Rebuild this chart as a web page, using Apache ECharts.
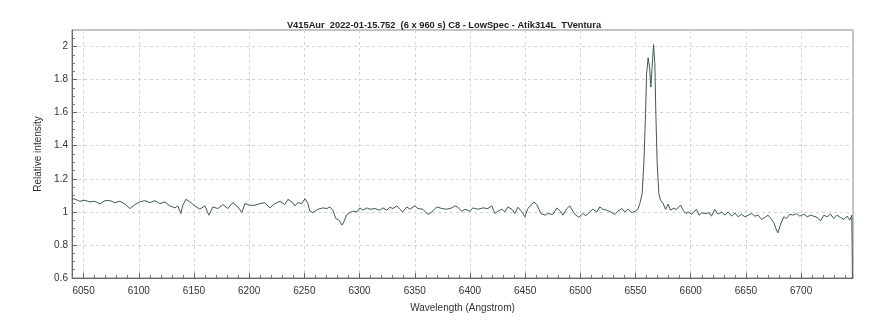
<!DOCTYPE html>
<html><head><meta charset="utf-8">
<script src="https://cdn.jsdelivr.net/npm/echarts@6/dist/echarts.min.js"></script>
<style>html,body{margin:0;padding:0;background:#fff}#c{width:880px;height:324px}</style>
</head><body><div id="c"></div>
<script>
const chartTitle = "V415Aur  2022-01-15.752  (6 x 960 s) C8 - LowSpec - Atik314L  TVentura";
const xAxisName = "Wavelength (Angstrom)";
const yAxisName = "Relative intensity";
const xTickLabels = [6050,6100,6150,6200,6250,6300,6350,6400,6450,6500,6550,6600,6650,6700];
const yTickLabels = [0.6,0.8,1,1.2,1.4,1.6,1.8,2];
const wavelengths = [
6039.5,6042.1,6046.6,6051.2,6055.7,6060.2,6064.8,6069.3,6073.8,6078.4,6082.9,6087.4,6091.9,6096.5,6101.0,6105.5,6110.1,6114.6,6119.1,6123.6,6128.2,6132.7,6135.4,6138.1,6139.9,6142.7,6146.3,6150.8,6155.3,6159.9,6163.5,6167.1,6171.6,6176.2,6180.7,6185.2,6189.8,6193.4,6196.1,6200.6,6205.2,6209.7,6214.2,6218.7,
6223.3,6227.8,6232.3,6235.1,6238.7,6241.4,6244.1,6247.7,6250.5,6253.2,6255.0,6257.7,6262.2,6266.8,6270.4,6273.1,6275.8,6278.5,6281.3,6284.0,6285.8,6288.5,6291.2,6293.9,6297.6,6300.3,6303.0,6306.6,6309.3,6313.9,6318.4,6321.1,6324.7,6327.4,6330.2,6333.8,6336.5,6339.2,6342.8,6345.6,6350.1,6352.8,6357.3,6361.9,6365.5,6370.0,6374.6,6379.1,6383.6,6386.3,6389.0,6392.7,6395.4,
6397.2,6399.9,6402.6,6407.2,6411.7,6416.2,6419.8,6422.6,6425.3,6428.9,6431.6,6434.3,6438.0,6440.7,6443.4,6447.0,6449.7,6452.4,6456.1,6457.9,6460.6,6464.2,6467.9,6470.6,6475.1,6478.7,6482.3,6484.2,6487.8,6490.5,6493.2,6495.9,6498.6,6502.3,6505.0,6508.6,6511.3,6514.9,6517.7,6520.4,6524.0,6528.5,6531.3,6534.0,6537.6,6540.3,6543.0,6546.7,6550.0,6552.1,
6553.9,6556.0,6557.5,6559.1,6560.0,6561.4,6562.7,6563.9,6565.0,6566.3,6567.5,6568.4,6569.6,6571.1,6572.6,6575.0,6577.2,6579.5,6581.7,6584.1,6587.1,6590.8,6593.1,6595.6,6597.6,6600.7,6605.3,6607.6,6609.8,6612.8,6616.7,6618.8,6621.8,6624.8,6627.9,6630.9,6633.9,6637.0,6640.0,6642.9,6646.0,6649.0,6652.0,6655.1,6658.1,6661.1,6664.1,6667.1,6670.1,6673.2,6675.3,6677.1,6678.9,6680.7,6682.3,6684.3,6686.8,6689.8,6692.8,6695.8,6698.8,6702.5,6705.5,6708.5,6711.5,6714.5,6717.6,6720.6,6723.6,6726.6,6729.6,6732.6,6735.7,6738.7,6741.7,6744.1,6745.9,6746.8
];
const intensity = [
1.080,1.077,1.064,1.070,1.060,1.064,1.048,1.068,1.068,1.056,1.064,1.048,1.020,1.044,1.060,1.068,1.056,1.068,1.050,1.060,1.036,1.024,1.036,0.990,1.040,1.076,1.060,1.036,1.016,1.036,0.980,1.030,1.020,1.044,1.020,1.056,1.030,0.996,1.050,1.040,1.040,1.050,1.055,1.024,
1.050,1.064,1.044,1.076,1.060,1.036,1.056,1.050,1.080,1.050,1.004,0.996,1.016,1.024,1.020,1.030,1.010,0.960,0.950,0.920,0.940,0.984,0.996,1.004,1.000,1.024,1.010,1.024,1.016,1.020,1.010,1.024,1.010,1.028,1.020,1.036,1.016,1.000,1.030,1.016,1.036,1.020,1.016,0.984,1.000,1.030,1.020,1.016,1.024,1.036,1.028,1.004,1.016,
1.028,1.004,1.024,1.016,1.024,1.020,1.036,0.990,1.004,1.016,1.000,1.030,1.016,0.990,1.028,1.000,0.970,1.020,1.044,1.060,1.044,0.990,0.980,0.990,0.984,1.024,1.000,0.980,1.020,1.036,1.004,0.980,0.968,0.990,0.976,1.000,1.016,1.000,1.030,1.016,1.010,0.996,0.984,1.004,1.020,1.000,1.016,0.996,1.004,1.016,
1.050,1.111,1.292,1.594,1.835,1.932,1.875,1.755,1.875,2.012,1.896,1.594,1.292,1.111,1.071,1.050,1.015,1.047,1.010,1.021,1.015,1.041,1.010,0.990,1.000,0.986,1.015,0.980,0.994,0.990,0.994,0.974,1.015,0.986,1.000,0.980,1.000,0.974,0.994,0.970,0.986,0.970,0.980,0.990,0.974,0.980,0.954,0.966,0.980,0.954,0.934,0.900,0.873,0.910,0.940,0.970,0.960,0.986,0.980,0.990,0.974,0.986,0.970,0.980,0.974,0.966,0.946,0.980,0.970,0.986,0.960,0.980,0.966,0.954,0.974,0.950,0.980,0.400
];
const xMin = 6039.5, xMax = 6747, yMin = 0.6, yMax = 2.1;

// minor tick positions (every 10 Å / every 0.05)
const xMinor = [];
for (let v = 6040; v <= 6740; v += 10) if (v % 50 !== 0) xMinor.push(v);
const yMinor = [];
for (let k = 13; k <= 41; k++) if (k % 4 !== 0) yMinor.push(+(k * 0.05).toFixed(2));

const chart = echarts.init(document.getElementById('c'), null, {renderer: 'canvas'});
const font = "'Liberation Sans', Arial, sans-serif";
const axisCol = '#666';
chart.setOption({
  backgroundColor: '#fff',
  animation: false,
  title: {
    text: chartTitle, left: 439, top: 16, textAlign: 'center',
    textStyle: {fontFamily: font, fontSize: 9.3, fontWeight: 'bold', color: '#222'}
  },
  grid: {left: 72, right: 27, top: 30, bottom: 46, show: true, borderColor: '#888', borderWidth: 1, backgroundColor: '#fff'},
  xAxis: [{
    type: 'value', min: xMin, max: xMax,
    name: xAxisName, nameLocation: 'middle', nameGap: 25,
    nameTextStyle: {fontFamily: font, fontSize: 10, color: '#333'},
    axisLine: {show: true, onZero: false, lineStyle: {color: axisCol}},
    axisTick: {show: true, inside: true, length: 5, customValues: xTickLabels, lineStyle: {color: axisCol}},
    axisLabel: {fontFamily: font, fontSize: 10, color: '#333', margin: 8, customValues: xTickLabels, formatter: v => String(v)},
    splitLine: {show: true, lineStyle: {color: '#d4d4d4', type: [3, 3]}}
  }, {
    type: 'value', min: xMin, max: xMax, position: 'bottom',
    axisLine: {show: false, onZero: false},
    axisTick: {show: true, inside: true, length: 3, customValues: xMinor, lineStyle: {color: '#777'}},
    axisLabel: {show: false},
    splitLine: {show: false}
  }],
  yAxis: [{
    type: 'value', min: yMin, max: yMax,
    name: yAxisName, nameLocation: 'middle', nameGap: 29, nameRotate: 90,
    nameTextStyle: {fontFamily: font, fontSize: 10, color: '#333'},
    axisLine: {show: true, onZero: false, lineStyle: {color: axisCol}},
    axisTick: {show: true, inside: true, length: 5, customValues: yTickLabels, lineStyle: {color: axisCol}},
    axisLabel: {fontFamily: font, fontSize: 10, color: '#333', margin: 4, customValues: yTickLabels,
      formatter: v => String(+(+v).toFixed(2))},
    splitLine: {show: true, lineStyle: {color: '#d4d4d4', type: [3, 3]}}
  }, {
    type: 'value', min: yMin, max: yMax, position: 'left',
    axisLine: {show: false, onZero: false},
    axisTick: {show: true, inside: true, length: 3, customValues: yMinor, lineStyle: {color: '#777'}},
    axisLabel: {show: false},
    splitLine: {show: false}
  }],
  series: [{
    type: 'line', xAxisIndex: 0, yAxisIndex: 0, showSymbol: false, symbol: 'none', clip: true,
    lineStyle: {color: '#3f5858', width: 1},
    data: wavelengths.map((w, i) => [w, intensity[i]])
  }]
});
</script></body></html>
